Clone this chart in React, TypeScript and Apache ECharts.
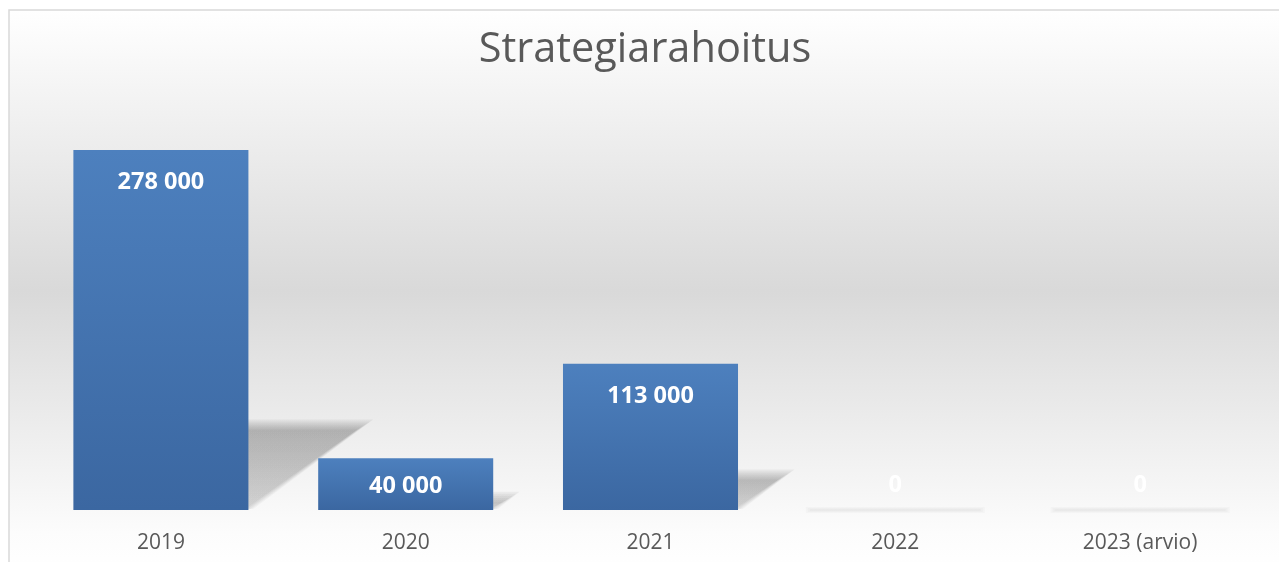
import React, { useEffect, useRef } from "react";
import * as echarts from "echarts";

const categories = ["2019", "2020", "2021", "2022", "2023 (arvio)"];
const values = [278000, 40000, 113000, 0, 0];
const titleText = "Strategiarahoitus";

const fmt = (v: number) => String(v).replace(/\B(?=(\d{3})+(?!\d))/g, " ");

export default function App() {
  const ref = useRef<HTMLDivElement>(null);
  useEffect(() => {
    if (!ref.current) return;
    const chart = echarts.init(ref.current, null, { renderer: "svg" });
    const font = "'Open Sans', 'Noto Sans', sans-serif";
    const barFrac = 0.715;
    chart.setOption({
      animation: false,
      graphic: [
        {
          type: "rect",
          z: -10,
          shape: { x: 9, y: 10, width: 1290, height: 562 },
          style: {
            fill: new echarts.graphic.LinearGradient(0, 0, 0, 1, [
              { offset: 0, color: "#ffffff" },
              { offset: 0.5, color: "#d9d9d9" },
              { offset: 0.93, color: "#fcfcfc" },
              { offset: 1, color: "#ffffff" },
            ]),
            stroke: "#d9d9d9",
            lineWidth: 1.5,
          },
        },
      ],
      title: {
        text: titleText,
        left: 640,
        textAlign: "center",
        top: 20,
        textStyle: {
          fontFamily: font,
          fontSize: 41.5,
          fontWeight: "normal",
          color: "#595959",
        },
      },
      grid: { left: 38.5, right: 16.5, top: 121.5, bottom: 52 },
      xAxis: {
        type: "category",
        data: categories,
        axisLine: { show: false },
        axisTick: { show: false },
        axisLabel: {
          fontFamily: font,
          fontSize: 21,
          color: "#595959",
          margin: 20,
        },
      },
      yAxis: {
        type: "value",
        min: 0,
        max: 300000,
        show: false,
        splitLine: { show: false },
      },
      series: [
        {
          type: "custom",
          z: 1,
          silent: true,
          data: values.map((v, i) => [i, v]),
          renderItem: (params: any, api: any) => {
            const idx = api.value(0);
            const v = api.value(1);
            const top = api.coord([idx, v]);
            const base = api.coord([idx, 0]);
            const band = api.size([1, 0])[0];
            const bw = band * barFrac;
            const xr = top[0] + bw / 2;
            const xl = top[0] - bw / 2;
            const y0 = base[1];
            const h = y0 - top[1];
            if (h < 1) {
              const kids: any[] = [];
              for (let k = 0; k < 3; k++) {
                kids.push({
                  type: "rect",
                  shape: { x: xl + 2 - k * 2, y: y0 - 1 - k, width: bw - 4 + k * 4, height: 2 + k * 2 },
                  style: { fill: "rgba(0,0,0,0.018)" },
                });
              }
              return { type: "group", children: kids };
            }
            const sh = h * 0.235;
            const sx = h * 0.32;
            const kids: any[] = [];
            for (let k = 0; k < 6; k++) {
              const d = -4 + k * 2;
              kids.push({
                type: "polygon",
                shape: {
                  points: [
                    [xr - 2, y0 - 1],
                    [xr + d * 0.8, y0 - 1],
                    [xr + sx + d * 1.6, y0 - sh - d],
                    [xr - 2, y0 - sh - d],
                  ],
                },
                style: {
                  fill: new echarts.graphic.LinearGradient(0, 0, 0, 1, [
                    { offset: 0, color: "rgba(0,0,0,0.05)" },
                    { offset: 1, color: "rgba(0,0,0,0.028)" },
                  ]),
                },
              });
            }
            return { type: "group", children: kids };
          },
        },
        {
          type: "bar",
          z: 2,
          barWidth: barFrac * 100 + "%",
          data: values.map((v) => ({
            value: v,
            label:
              v === 0
                ? { position: "top", distance: 15 }
                : v < 60000
                ? { position: "inside" }
                : { position: "insideTop", distance: 18 },
          })),
          itemStyle: {
            color: new echarts.graphic.LinearGradient(0, 0, 0, 1, [
              { offset: 0, color: "#4d80be" },
              { offset: 1, color: "#3b67a1" },
            ]),
          },
          label: {
            show: true,
            formatter: (p: any) => fmt(p.value),
            color: "#ffffff",
            fontFamily: font,
            fontWeight: "bold",
            fontSize: 23.5,
          },
        },
      ],
    });
    return () => chart.dispose();
  }, []);
  return (
    <div
      ref={ref}
      style={{ position: "fixed", left: 0, top: 0, width: 1279, height: 562 }}
    />
  );
}
